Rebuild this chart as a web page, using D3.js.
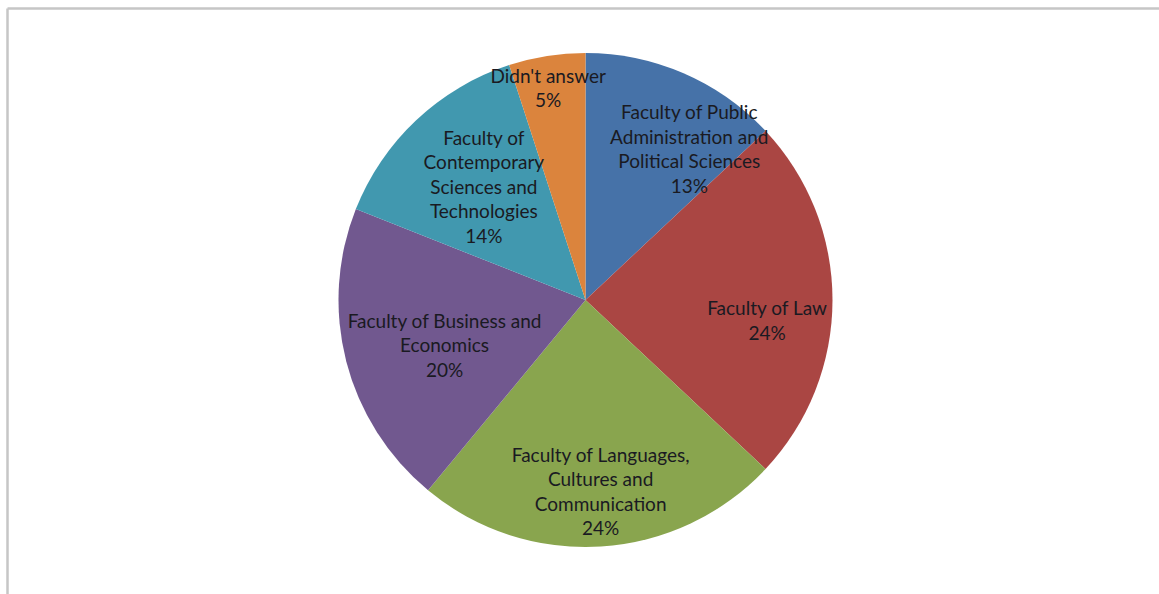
<!DOCTYPE html>
<html>
<head>
<meta charset="utf-8">
<script src="https://cdn.jsdelivr.net/npm/d3@7"></script>
<style>
  html, body { margin: 0; padding: 0; background: #fff; }
  svg { display: block; }
  text { font-family: Lato, "Open Sans", sans-serif; }
</style>
</head>
<body>
<svg id="chart" width="1159" height="594"></svg>
<script>
// Respondents by faculty (percent)
const faculties = [
  "Faculty of Public Administration and Political Sciences",
  "Faculty of Law",
  "Faculty of Languages, Cultures and Communication",
  "Faculty of Business and Economics",
  "Faculty of Contemporary Sciences and Technologies",
  "Didn't answer"
];
const shares = [13, 24, 24, 20, 14, 5];
const sliceColors = ["#4672a8", "#aa4643", "#89a54e", "#71588f", "#4198af", "#db843d"];

// How each label wraps onto lines
const labelLines = [
  ["Faculty of Public", "Administration and", "Political Sciences"],
  ["Faculty of Law"],
  ["Faculty of Languages,", "Cultures and", "Communication"],
  ["Faculty of Business and", "Economics"],
  ["Faculty of", "Contemporary", "Sciences and", "Technologies"],
  ["Didn't answer"]
];

// Label placement: fraction of the radius and angular nudge (degrees) from the slice mid-angle
const labelLayout = [
  { r: 0.74, nudge: 11.2 },
  { r: 0.74, nudge: 6.6 },
  { r: 0.78, nudge: -0.9 },
  { r: 0.60, nudge: -3.6 },
  { r: 0.615, nudge: 1.2 },
  { r: 0.87, nudge: -1.0 }
];

const W = 1159, H = 594;
const cx = 585.5, cy = 300, radius = 247;
const lineH = 24.5;

const svg = d3.select("#chart");

// Frame lines along top and left
svg.append("line").attr("x1", 7.5).attr("y1", 8.5).attr("x2", W).attr("y2", 8.5)
  .attr("stroke", "#c6c6c6").attr("stroke-width", 2.5);
svg.append("line").attr("x1", 7.5).attr("y1", 8.5).attr("x2", 7.5).attr("y2", H)
  .attr("stroke", "#c6c6c6").attr("stroke-width", 2.5);

const data = faculties.map((name, i) => ({ name, value: shares[i], i }));

const pie = d3.pie().value(d => d.value).sort(null);
const arc = d3.arc().innerRadius(0).outerRadius(radius);
const arcs = pie(data);

const g = svg.append("g").attr("transform", `translate(${cx},${cy})`);

g.selectAll("path.slice")
  .data(arcs)
  .join("path")
  .attr("class", "slice")
  .attr("d", arc)
  .attr("fill", d => sliceColors[d.data.i]);

const labels = g.selectAll("text.label")
  .data(arcs)
  .join("text")
  .attr("class", "label")
  .attr("text-anchor", "middle")
  .attr("font-size", 19)
  .attr("fill", "#1a1a22")
  .attr("transform", d => {
    const lay = labelLayout[d.data.i];
    const mid = (d.startAngle + d.endAngle) / 2 + lay.nudge * Math.PI / 180;
    const rr = radius * lay.r;
    return `translate(${rr * Math.sin(mid)},${-rr * Math.cos(mid)})`;
  });

labels.each(function (d) {
  const lines = labelLines[d.data.i].concat([d3.format(".0%")(d.data.value / 100)]);
  const n = lines.length;
  d3.select(this).selectAll("tspan")
    .data(lines)
    .join("tspan")
    .attr("x", 0)
    .attr("y", (l, k) => (k - (n - 1) / 2) * lineH)
    .attr("dy", "0.35em")
    .text(l => l);
});
</script>
</body>
</html>
